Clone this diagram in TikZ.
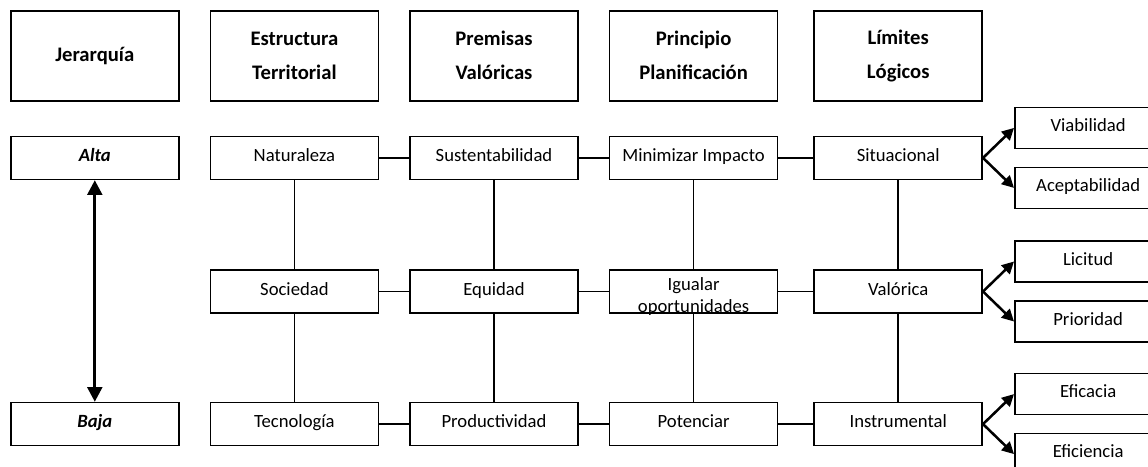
\documentclass[tikz,border=0pt]{standalone}
\usepackage{fontspec}
\setmainfont{Carlito}
\usetikzlibrary{arrows.meta, positioning}

\begin{document}
\begin{tikzpicture}[
        node distance=22.5pt,
        head/.style={rectangle, draw, line width=1.2pt, minimum width=126pt, minimum height=67.5pt, align=center, font=\fontsize{15.5}{25.5}\selectfont\bfseries},
        cell/.style={rectangle, draw, line width=1.2pt, minimum width=126pt, minimum height=32.25pt, inner ysep=0pt, text height=9.5pt, text depth=4pt, align=center, font=\fontsize{14}{16.5}\selectfont},
        outcome/.style={cell, minimum width=110pt, minimum height=30.75pt},
        link/.style={line width=1.1pt},
        branch/.style={line width=1.9pt, -{Triangle[length=9pt, width=9pt]}}
    ]
        \useasboundingbox (0,0) rectangle (861pt,-350.25pt);
        % column headers
        \node[head, anchor=north west] (jer) at (7.5pt,-7.5pt) {Jerarquía};
        \node[head, right=of jer] (est) {Estructura\\Territorial};
        \node[head, right=of est] (prem) {Premisas\\Valóricas};
        \node[head, right=of prem] (princ) {Principio\\Planificación};
        \node[head, right=26.25pt of princ] (lim) {Límites\\Lógicos};

        % high level
        \node[cell, below=25.5pt of jer] (alta) {\textbf{\textit{Alta}}};
        \node[cell, below=25.5pt of est] (nat) {Naturaleza};
        \node[cell, below=25.5pt of prem] (sust) {Sustentabilidad};
        \node[cell, below=25.5pt of princ] (mini) {Minimizar Impacto};
        \node[cell, below=25.5pt of lim] (sit) {Situacional};

        % middle level
        \node[cell, below=66.75pt of nat] (soc) {Sociedad};
        \node[cell, below=66.75pt of sust] (equi) {Equidad};
        \node[cell, below=66.75pt of mini, text height=30.75pt, text depth=0pt] (igu) {Igualar\\oportunidades};
        \node[cell, below=66.75pt of sit] (val) {Valórica};

        % low level
        \node[cell, below=66pt of soc] (tec) {Tecnología};
        \node[cell, left=of tec] (baja) {\textbf{\textit{Baja}}};
        \node[cell, below=66pt of equi] (prod) {Productividad};
        \node[cell, below=66pt of igu] (pot) {Potenciar};
        \node[cell, below=66pt of val] (inst) {Instrumental};

        % criteria
        \node[outcome, right=23.25pt of sit, yshift=22.5pt] (viab) {Viabilidad};
        \node[outcome, right=23.25pt of sit, yshift=-22.5pt] (acep) {Aceptabilidad};
        \node[outcome, right=23.25pt of val, yshift=22.5pt] (lic) {Licitud};
        \node[outcome, right=23.25pt of val, yshift=-22.5pt] (prio) {Prioridad};
        \node[outcome, right=23.25pt of inst, yshift=22.5pt] (efic) {Eficacia};
        \node[outcome, right=23.25pt of inst, yshift=-22.5pt] (efie) {Eficiencia};

        \draw[line width=2.2pt, {Triangle[length=11pt, width=11pt]}-{Triangle[length=11pt, width=11pt]}] (alta) -- (baja);

        \foreach \a/\b in {nat/sust, sust/mini, mini/sit, soc/equi, equi/igu, igu/val, tec/prod, prod/pot, pot/inst,
                nat/soc, soc/tec, sust/equi, equi/prod, mini/igu, igu/pot, sit/val, val/inst}
            \draw[link] (\a) -- (\b);

        \foreach \s/\t in {sit/viab, sit/acep, val/lic, val/prio, inst/efic, inst/efie}
            \draw[branch] (\s.east) -- (\t.west);
    \end{tikzpicture}
\end{document}
